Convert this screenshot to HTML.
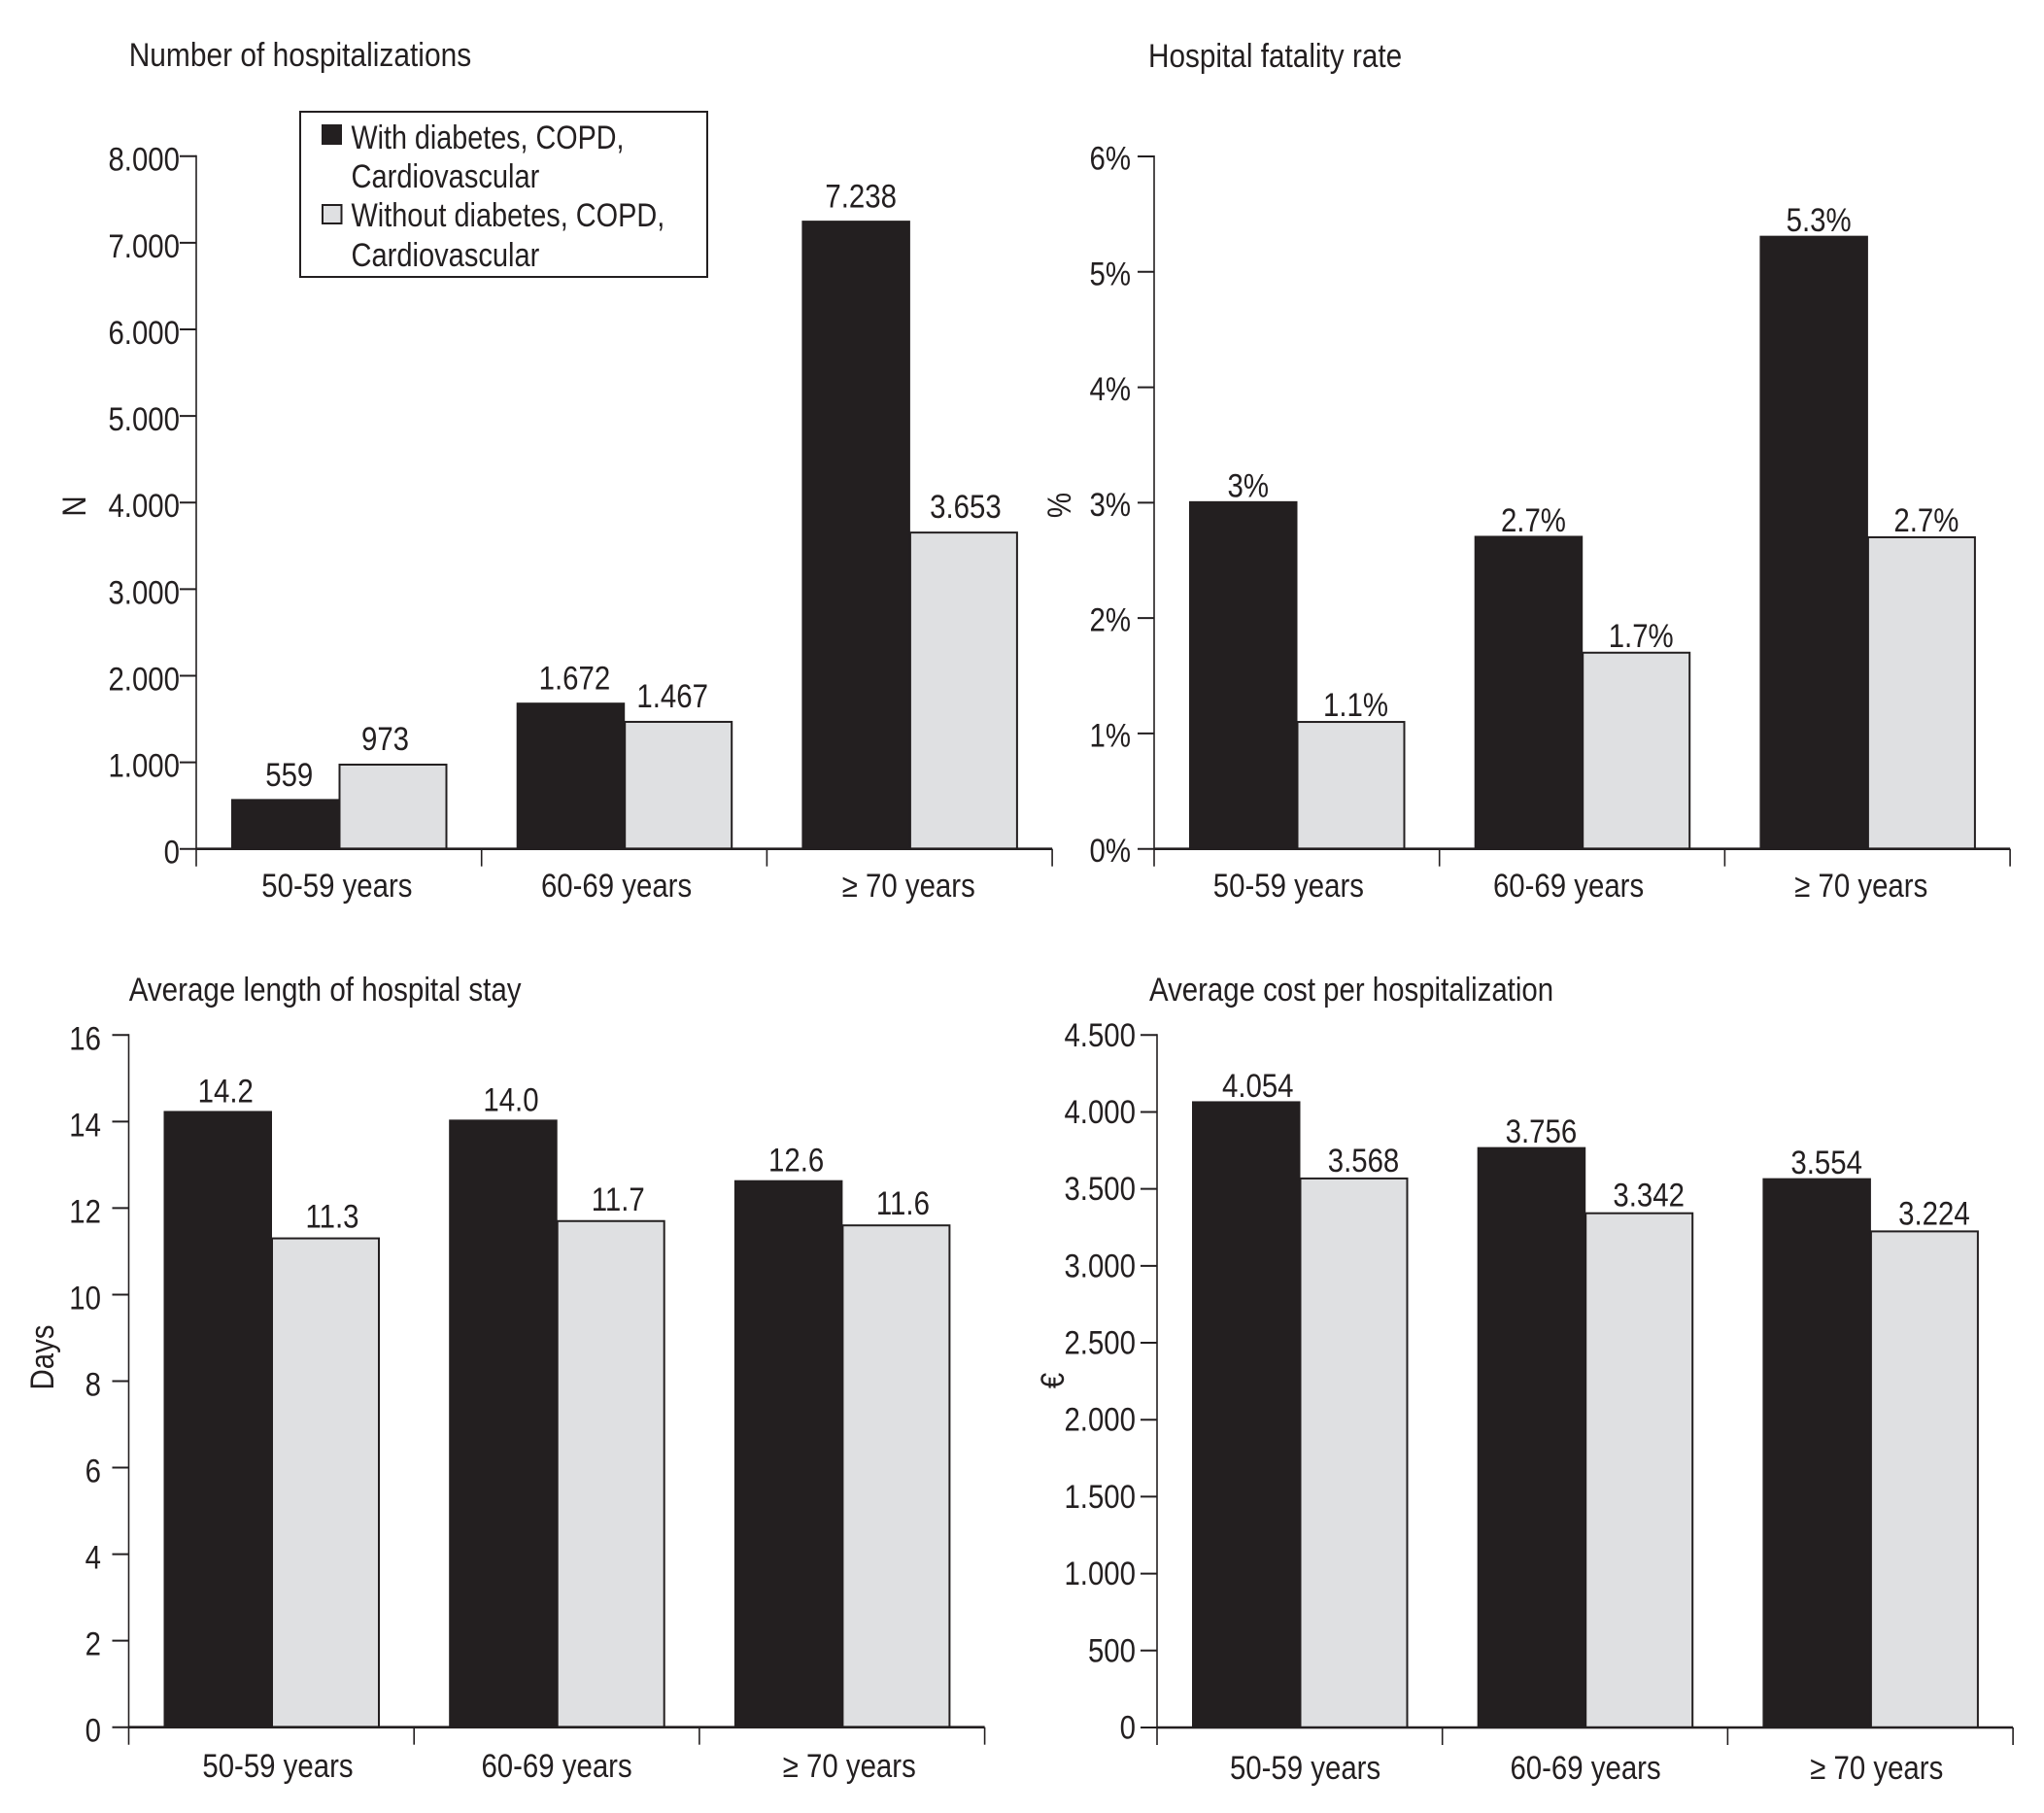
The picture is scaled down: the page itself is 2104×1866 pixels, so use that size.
<!DOCTYPE html>
<html lang="en">
<head>
<meta charset="utf-8">
<title>Hospitalizations by age group</title>
<style>
  html, body { margin: 0; padding: 0; background: #fff; }
  svg { display: block; }
  text { font-family: "Liberation Sans", sans-serif; font-size: 34px; fill: #231f20; }
</style>
</head>
<body>
<svg id="figure" xmlns="http://www.w3.org/2000/svg" width="2104" height="1866" viewBox="0 0 2104 1866">
  <rect width="2104" height="1866" fill="#fff"/>

  <text transform="translate(132.7,68) scale(.88,1)">Number of hospitalizations</text>
  <text transform="translate(1182,69) scale(.875,1)">Hospital fatality rate</text>
  <text transform="translate(132.7,1030) scale(.87,1)">Average length of hospital stay</text>
  <text transform="translate(1183,1030) scale(.865,1)">Average cost per hospitalization</text>

  <text text-anchor="middle" transform="translate(88,521) rotate(-90) scale(.865,1)">N</text>
  <text text-anchor="middle" transform="translate(1102,520) rotate(-90) scale(.865,1)">%</text>
  <text text-anchor="middle" transform="translate(55,1397) rotate(-90) scale(.865,1)">Days</text>
  <text text-anchor="middle" transform="translate(1095,1421) rotate(-90) scale(.865,1)">€</text>

  <g id="charts"></g>

  <g>
    <rect x="309" y="115" width="419" height="170" fill="#fff" stroke="#231f20" stroke-width="2"/>
    <rect x="331" y="128" width="21" height="21" fill="#231f20"/>
    <text transform="translate(361.5,153) scale(.845,1)">With diabetes, COPD,</text>
    <text transform="translate(361.5,193) scale(.855,1)">Cardiovascular</text>
    <rect x="332" y="211" width="19.5" height="19" fill="#dfe0e2" stroke="#231f20" stroke-width="2"/>
    <text transform="translate(361.5,233) scale(.85,1)">Without diabetes, COPD,</text>
    <text transform="translate(361.5,274) scale(.855,1)">Cardiovascular</text>
  </g>
</svg>

<script>
const categories = ['50-59 years', '60-69 years', '≥ 70 years'];

const hospWith = [559, 1672, 7238];
const hospWithout = [973, 1467, 3653];
const hospWithLabels = ['559', '1.672', '7.238'];
const hospWithoutLabels = ['973', '1.467', '3.653'];
const hospTicks = [0, 1000, 2000, 3000, 4000, 5000, 6000, 7000, 8000];
const hospTickLabels = ['0', '1.000', '2.000', '3.000', '4.000', '5.000', '6.000', '7.000', '8.000'];

const fatalWith = [3, 2.7, 5.3];
const fatalWithout = [1.1, 1.7, 2.7];
const fatalWithLabels = ['3%', '2.7%', '5.3%'];
const fatalWithoutLabels = ['1.1%', '1.7%', '2.7%'];
const fatalTicks = [0, 1, 2, 3, 4, 5, 6];
const fatalTickLabels = ['0%', '1%', '2%', '3%', '4%', '5%', '6%'];

const stayWith = [14.2, 14.0, 12.6];
const stayWithout = [11.3, 11.7, 11.6];
const stayWithLabels = ['14.2', '14.0', '12.6'];
const stayWithoutLabels = ['11.3', '11.7', '11.6'];
const stayTicks = [0, 2, 4, 6, 8, 10, 12, 14, 16];
const stayTickLabels = ['0', '2', '4', '6', '8', '10', '12', '14', '16'];

const costWith = [4054, 3756, 3554];
const costWithout = [3568, 3342, 3224];
const costWithLabels = ['4.054', '3.756', '3.554'];
const costWithoutLabels = ['3.568', '3.342', '3.224'];
const costTicks = [0, 500, 1000, 1500, 2000, 2500, 3000, 3500, 4000, 4500];
const costTickLabels = ['0', '500', '1.000', '1.500', '2.000', '2.500', '3.000', '3.500', '4.000', '4.500'];

const DARK = '#231f20';
const LIGHT = '#dfe0e2';
const SVG_NS = 'http://www.w3.org/2000/svg';
const TEXT_SCALE = 0.865;
const BAND = 293.7;
const BAR_OFFSET = 36;
const DARK_W = 111.5;
const LIGHT_W = 110;

const root = document.getElementById('charts');

function shape(parent, tag, attrs) {
  const el = document.createElementNS(SVG_NS, tag);
  for (const k in attrs) el.setAttribute(k, attrs[k]);
  parent.appendChild(el);
  return el;
}

function label(parent, str, x, y, anchor) {
  const el = shape(parent, 'text', {
    transform: 'translate(' + x + ',' + y + ') scale(' + TEXT_SCALE + ',1)',
    'text-anchor': anchor
  });
  el.textContent = str;
  return el;
}

function drawChart(c) {
  const g = shape(root, 'g', {});
  
  

  const yScale = function (v) { return c.y0 - (v / c.max) * (c.y0 - c.top); };
  const bandX = function (i) { return c.x0 + i * BAND; };

  // Bars
  categories.forEach(function (cat, i) {
    const dx = bandX(i) + BAR_OFFSET;
    const lx = dx + DARK_W;
    const darkTop = yScale(c.withVals[i]) - c.darkLift;

    const dark = shape(g, 'rect', {
      x: dx, y: darkTop, width: DARK_W,
      height: c.y0 - darkTop, fill: DARK
    });
    
    

    const light = shape(g, 'rect', {
      x: lx, y: yScale(c.withoutVals[i]), width: LIGHT_W,
      height: c.y0 - yScale(c.withoutVals[i]), fill: LIGHT,
      stroke: DARK, 'stroke-width': 2
    });
    
    

    const dl = label(g, c.withLabels[i], dx + DARK_W / 2 + c.nudgeWith[i], yScale(c.withVals[i]) - c.gap, 'middle');
    
    

    const ll = label(g, c.withoutLabels[i], lx + LIGHT_W / 2 + c.nudgeWithout[i], yScale(c.withoutVals[i]) - c.gap, 'middle');
    
    

    const cl = label(g, cat, bandX(i) + BAND / 2 + c.catNudge[i], c.catBase, 'middle');
    
    
  });

  // Y axis
  const yAxis = shape(g, 'line', { x1: c.x0, x2: c.x0, y1: yScale(c.max) - 1, y2: c.y0 + 18, stroke: DARK, 'stroke-width': 1.6 });
  
  

  c.ticks.forEach(function (t, i) {
    const tick = shape(g, 'line', { x1: c.x0 - 17, x2: c.x0, y1: yScale(t), y2: yScale(t), stroke: DARK, 'stroke-width': 2 });
    
    
    const tl = label(g, c.tickLabels[i], c.labelRight, yScale(t) + c.tickBase, 'end');
    
    
  });

  // X axis
  const xAxis = shape(g, 'line', { x1: c.x0, x2: bandX(categories.length), y1: c.y0, y2: c.y0, stroke: DARK, 'stroke-width': 2.6 });
  
  

  for (let i = 1; i <= categories.length; i++) {
    const xt = shape(g, 'line', { x1: bandX(i), x2: bandX(i), y1: c.y0, y2: c.y0 + 18, stroke: DARK, 'stroke-width': 1.6 });
    
    
  }
}

drawChart({
  name: 'hospitalizations', x0: 202, y0: 873.7, top: 160.7, max: 8000,
  withVals: hospWith, withoutVals: hospWithout,
  withLabels: hospWithLabels, withoutLabels: hospWithoutLabels,
  ticks: hospTicks, tickLabels: hospTickLabels,
  labelRight: 185, tickBase: 15, gap: 15, darkLift: 1.5,
  nudgeWith: [4, 4, 5], nudgeWithout: [-8, -6, 2],
  catNudge: [-2, -8, -1], catBase: 923
});

drawChart({
  name: 'fatality', x0: 1188, y0: 873.7, top: 161, max: 6,
  withVals: fatalWith, withoutVals: fatalWithout,
  withLabels: fatalWithLabels, withoutLabels: fatalWithoutLabels,
  ticks: fatalTicks, tickLabels: fatalTickLabels,
  labelRight: 1164, tickBase: 13.5, gap: 6, darkLift: 1.5,
  nudgeWith: [5, 5, 5], nudgeWithout: [5, 5, 5],
  catNudge: [-8.5, -14, -6.5], catBase: 923
});

drawChart({
  name: 'stay', x0: 132.5, y0: 1777.7, top: 1065.3, max: 16,
  withVals: stayWith, withoutVals: stayWithout,
  withLabels: stayWithLabels, withoutLabels: stayWithoutLabels,
  ticks: stayTicks, tickLabels: stayTickLabels,
  labelRight: 104, tickBase: 15, gap: 11, darkLift: 2,
  nudgeWith: [8, 8, 8], nudgeWithout: [7, 7.5, 7],
  catNudge: [6.6, 0, 7.5], catBase: 1829
});

drawChart({
  name: 'cost', x0: 1191, y0: 1778, top: 1065.3, max: 4500,
  withVals: costWith, withoutVals: costWithout,
  withLabels: costWithLabels, withoutLabels: costWithoutLabels,
  ticks: costTicks, tickLabels: costTickLabels,
  labelRight: 1169, tickBase: 11.5, gap: 7, darkLift: 2.5,
  nudgeWith: [12, 10, 10], nudgeWithout: [10, 10, 10],
  catNudge: [5.7, 0.5, 6.5], catBase: 1831
});
</script>
</body>
</html>
